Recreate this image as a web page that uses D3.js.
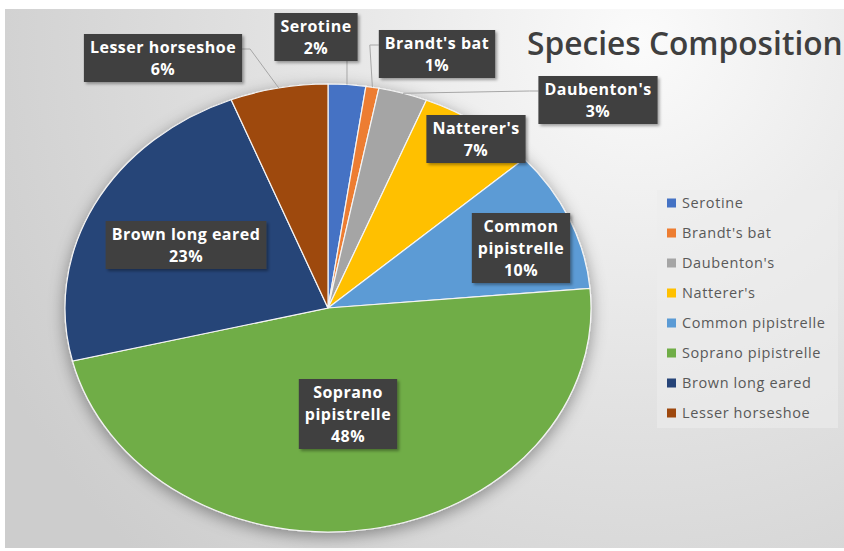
<!DOCTYPE html>
<html>
<head>
<meta charset="utf-8">
<script src="https://cdn.jsdelivr.net/npm/d3@7"></script>
<style>
  html, body { margin: 0; padding: 0; background: #ffffff; }
  svg { display: block; }
</style>
</head>
<body>
<svg id="chart" width="844" height="551"></svg>
<script>
// Bat species recorded, share of all records (%)
const categories = ["Serotine", "Brandt's bat", "Daubenton's", "Natterer's",
  "Common pipistrelle", "Soprano pipistrelle", "Brown long eared", "Lesser horseshoe"];
const shares = [2.3, 0.8, 3.0, 7.3, 10.2, 47.6, 22.8, 6.0];
const colors = ["#4472C4", "#ED7D31", "#A5A5A5", "#FFC000",
  "#5B9BD5", "#70AD47", "#264478", "#9E480E"];
// Data label name lines (long names wrap inside the slice labels)
const labelNames = [["Serotine"], ["Brandt's bat"], ["Daubenton's"], ["Natterer's"],
  ["Common", "pipistrelle"], ["Soprano", "pipistrelle"], ["Brown long eared"], ["Lesser horseshoe"]];
const title = "Species Composition";

// Label placement: centre of each callout box, and how its leader line attaches
const labelLayout = [
  { cx: 316, cy: 37,  leader: "bottom" },
  { cx: 437, cy: 54,  leader: "left" },
  { cx: 598, cy: 100, leader: "left" },
  { cx: 476, cy: 139, leader: null },
  { cx: 521, cy: 248, leader: null },
  { cx: 348, cy: 414, leader: null },
  { cx: 186, cy: 245, leader: null },
  { cx: 163, cy: 58,  leader: "right" }
];

const svg = d3.select("#chart");
const defs = svg.append("defs");

// Chart area background: soft radial grey gradient
const bg = defs.append("radialGradient").attr("id", "bgGrad")
  .attr("gradientUnits", "userSpaceOnUse")
  .attr("cx", 640).attr("cy", 40).attr("r", 720);
bg.append("stop").attr("offset", 0).attr("stop-color", "#fbfbfb");
bg.append("stop").attr("offset", 0.55).attr("stop-color", "#e0e0e0");
bg.append("stop").attr("offset", 1).attr("stop-color", "#cdcdcd");

const pieShadow = defs.append("filter").attr("id", "pieShadow")
  .attr("x", "-20%").attr("y", "-20%").attr("width", "140%").attr("height", "140%");
pieShadow.append("feDropShadow").attr("dx", 0).attr("dy", 4)
  .attr("stdDeviation", 8).attr("flood-color", "#000").attr("flood-opacity", 0.38);

const boxShadow = defs.append("filter").attr("id", "boxShadow")
  .attr("x", "-20%").attr("y", "-30%").attr("width", "140%").attr("height", "160%");
boxShadow.append("feDropShadow").attr("dx", 2).attr("dy", 2)
  .attr("stdDeviation", 1.6).attr("flood-color", "#000").attr("flood-opacity", 0.35);

svg.append("rect").attr("x", 5).attr("y", 9).attr("width", 839).attr("height", 539)
  .attr("fill", "url(#bgGrad)");

// Title
svg.append("text").attr("x", 527).attr("y", 55)
  .attr("font-family", "'Open Sans', sans-serif").attr("font-weight", 600)
  .attr("font-size", 31.7).attr("fill", "#3f3f3f").text(title);

// Pie (drawn as an ellipse: circular arcs scaled horizontally)
const cx = 328, cy = 308, rx = 263, ry = 224;
const pie = d3.pie().sort(null).value(d => d);
const arcs = pie(shares);
const arc = d3.arc().innerRadius(0).outerRadius(ry);

const pieG = svg.append("g").attr("filter", "url(#pieShadow)")
  .append("g").attr("transform", `translate(${cx},${cy}) scale(${rx / ry},1)`);
pieG.selectAll("path").data(arcs).join("path")
  .attr("d", arc)
  .attr("fill", (d, i) => colors[i])
  .attr("stroke", "#f4f4f4").attr("stroke-width", 1.2)
  .attr("vector-effect", "non-scaling-stroke");

// Point on the pie rim at the middle of a slice
function rimPoint(d) {
  const a = (d.startAngle + d.endAngle) / 2;
  return [cx + rx * Math.sin(a), cy - ry * Math.cos(a)];
}

const fmt = d3.format(".0f");
const total = d3.sum(shares);
const lineH = 22, padX = 6;

const labelG = svg.append("g");
arcs.forEach((d, i) => {
  const lines = labelNames[i].concat([fmt(d.value / total * 100) + "%"]);
  const lay = labelLayout[i];
  const g = labelG.append("g");
  const rect = g.append("rect").attr("fill", "#404040").attr("filter", "url(#boxShadow)");
  const text = g.append("text")
    .attr("font-family", "'Open Sans', sans-serif").attr("font-weight", 700)
    .attr("font-size", 16).attr("letter-spacing", 0.5)
    .attr("fill", "#ffffff").attr("text-anchor", "middle");
  const h = lines.length * lineH + 4;
  const top = lay.cy - h / 2;
  lines.forEach((t, k) => {
    text.append("tspan").attr("x", lay.cx).attr("y", top + 2 + lineH * k + 17).text(t);
  });
  const w = d3.max(text.selectAll("tspan").nodes(), n => n.getComputedTextLength()) + padX * 2;
  const left = lay.cx - w / 2;
  rect.attr("x", left).attr("y", top).attr("width", w).attr("height", h);

  if (lay.leader) {
    const p = rimPoint(d);
    let pts;
    if (lay.leader === "bottom") {
      pts = [p, [p[0], top + h]];
    } else if (lay.leader === "left") {
      const ay = top + 15;
      pts = [p, [left - 9, ay], [left, ay]];
    } else {
      const ay = top + 15;
      pts = [p, [left + w + 8, ay], [left + w, ay]];
    }
    labelG.insert("path", ":first-child").attr("d", d3.line()(pts))
      .attr("fill", "none").attr("stroke", "#a6a6a6").attr("stroke-width", 1);
  }
});

// Legend
const legX = 657, legY = 190;
svg.append("rect").attr("x", legX).attr("y", legY).attr("width", 181).attr("height", 238)
  .attr("fill", "#ececec").attr("opacity", 0.6);
const leg = svg.append("g").attr("transform", `translate(${legX + 10},${legY + 13})`);
categories.forEach((c, i) => {
  const row = leg.append("g").attr("transform", `translate(0,${i * 30})`);
  row.append("rect").attr("x", 0).attr("y", -4.5).attr("width", 9).attr("height", 9)
    .attr("fill", colors[i]);
  row.append("text").attr("x", 15).attr("y", 5)
    .attr("font-family", "'Open Sans', sans-serif").attr("font-size", 14.5)
    .attr("letter-spacing", 0.6)
    .attr("fill", "#595959").text(c);
});
</script>
</body>
</html>
